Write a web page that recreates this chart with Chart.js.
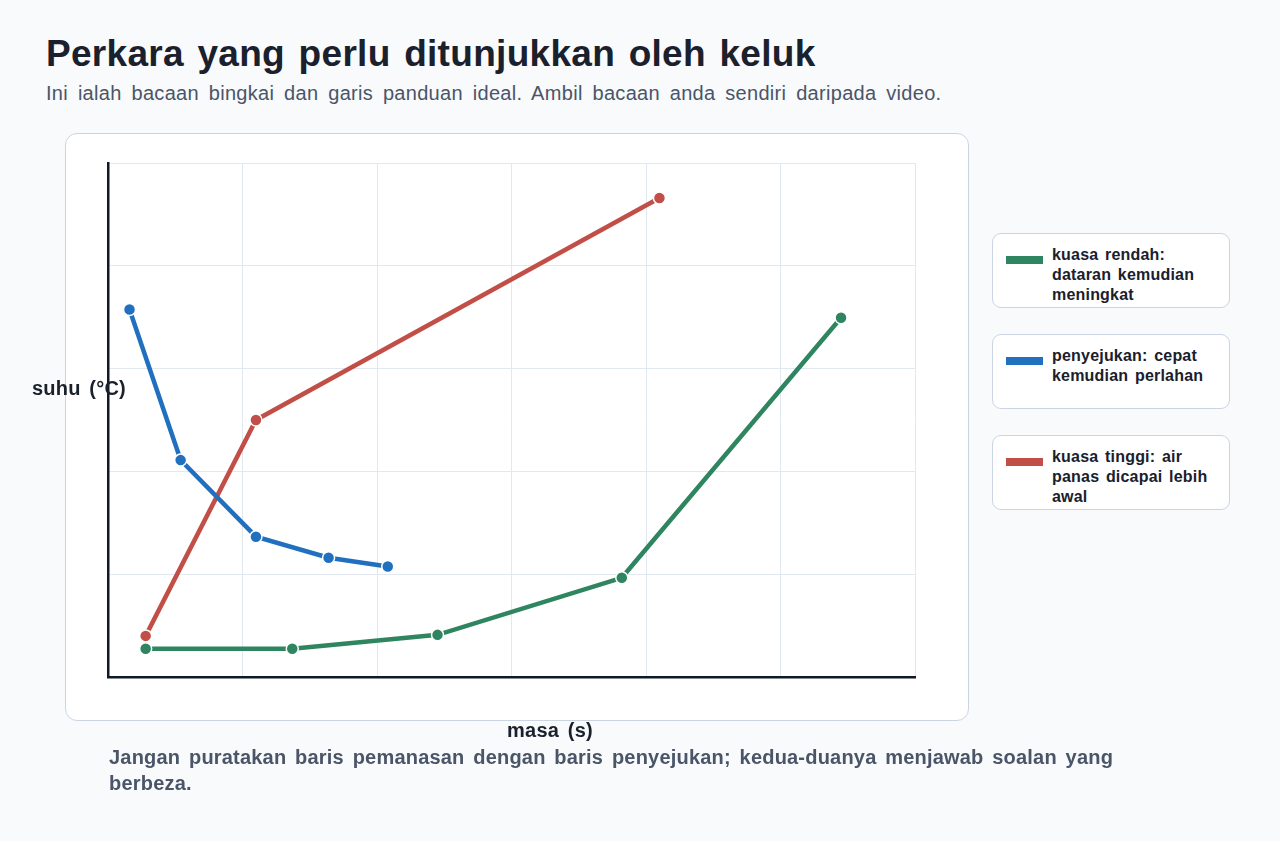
<!DOCTYPE html>
<html>
<head>
<meta charset="utf-8">
<script src="https://cdn.jsdelivr.net/npm/chart.js@4"></script>
<style>
  body { margin: 0; background: #f8fafc; font-family: "Liberation Sans", Arial, sans-serif; width: 1280px; height: 841px; position: relative; overflow: hidden; }
  h1 { position: absolute; left: 46px; top: 33px; margin: 0; font-size: 37px; line-height: normal; letter-spacing: 0.3px; word-spacing: 3px; font-weight: bold; color: #1a202c; }
  .sub { position: absolute; left: 46px; top: 82px; font-size: 20px; letter-spacing: 0.3px; word-spacing: 4px; color: #4a5568; white-space: nowrap; }
  .card { position: absolute; left: 65px; top: 133px; width: 902px; height: 586px; background: #fff; border: 1px solid #cbd5e1; border-radius: 12px; }
  #wrap { position: absolute; left: 65px; top: 133px; width: 904px; height: 588px; }
  .ytitle { position: absolute; left: 32px; top: 377px; font-size: 20px; letter-spacing: 0.2px; word-spacing: 3px; font-weight: bold; color: #1a202c; }
  .xtitle { position: absolute; left: 0; width: 1100px; text-align: center; top: 719px; font-size: 20px; letter-spacing: 0.2px; word-spacing: 3px; font-weight: bold; color: #1a202c; }
  .note { position: absolute; left: 109px; top: 744px; width: 1015px; font-size: 20px; line-height: 26px; letter-spacing: 0.2px; word-spacing: 3px; font-weight: bold; color: #4a5568; }
  .leg { position: absolute; left: 992px; width: 236px; height: 73px; background: #fff; border: 1px solid #cbd5e1; border-radius: 9px; }
  .leg .sw { position: absolute; left: 13px; top: 22px; width: 37px; height: 8px; }
  .leg .tx { position: absolute; left: 59px; top: 11px; width: 168px; font-size: 16px; line-height: 20px; letter-spacing: 0.2px; word-spacing: 2px; font-weight: bold; color: #1a202c; }
</style>
</head>
<body>
<h1>Perkara yang perlu ditunjukkan oleh keluk</h1>
<div class="sub">Ini ialah bacaan bingkai dan garis panduan ideal. Ambil bacaan anda sendiri daripada video.</div>
<div class="card"></div>
<div id="wrap"><canvas id="chart"></canvas></div>
<div class="ytitle">suhu (°C)</div>
<div class="xtitle">masa (s)</div>
<div class="note">Jangan puratakan baris pemanasan dengan baris penyejukan; kedua-duanya menjawab soalan yang berbeza.</div>
<div id="legend"></div>
<script>
const seriesNames = ['kuasa rendah: dataran kemudian meningkat', 'penyejukan: cepat kemudian perlahan', 'kuasa tinggi: air panas dicapai lebih awal'];
const seriesColors = ['#2f855f', '#2170c0', '#c24f47'];

const lowX = [28, 137, 245, 382, 545];
const lowY = [5.5, 5.5, 8.2, 19.3, 69.9];
const coolX = [16, 54, 110, 164, 208];
const coolY = [71.5, 42.2, 27.3, 23.2, 21.5];
const highX = [28, 110, 410];
const highY = [8, 50, 93.2];

function pts(xs, ys) {
    return xs.map((x, i) => ({ x: x, y: ys[i] }));
}

const allData = [pts(lowX, lowY), pts(coolX, coolY), pts(highX, highY)];

const datasets = allData.map((d, i) => ({
    label: seriesNames[i],
    data: d,
    showLine: true,
    borderColor: seriesColors[i],
    backgroundColor: seriesColors[i],
    borderWidth: 4.5,
    pointRadius: 6,
    pointBorderColor: '#ffffff',
    pointBorderWidth: 1.5,
    tension: 0
}));

new Chart(document.getElementById('chart').getContext('2d'), {
    type: 'scatter',
    data: { datasets: datasets },
    options: {
        responsive: true,
        maintainAspectRatio: false,
        animation: false,
        layout: { padding: { left: 43, right: 54, top: 30, bottom: 44 } },
        plugins: { legend: { display: false }, tooltip: { enabled: false } },
        scales: {
            x: {
                min: 0, max: 600,
                ticks: { display: false, stepSize: 100 },
                grid: { color: '#e2e8f0', drawTicks: false },
                border: { color: '#111827', width: 2.5 }
            },
            y: {
                min: 0, max: 100,
                ticks: { display: false, stepSize: 20 },
                grid: { color: '#e2e8f0', drawTicks: false },
                border: { color: '#111827', width: 2.5 }
            }
        }
    }
});

const legendEl = document.getElementById('legend');
const legTops = [233, 334, 435];
seriesNames.forEach((name, i) => {
    const box = document.createElement('div');
    box.className = 'leg';
    box.style.top = legTops[i] + 'px';
    const sw = document.createElement('div');
    sw.className = 'sw';
    sw.style.background = seriesColors[i];
    const tx = document.createElement('div');
    tx.className = 'tx';
    tx.textContent = name;
    box.appendChild(sw);
    box.appendChild(tx);
    legendEl.appendChild(box);
});
</script>
</body>
</html>
